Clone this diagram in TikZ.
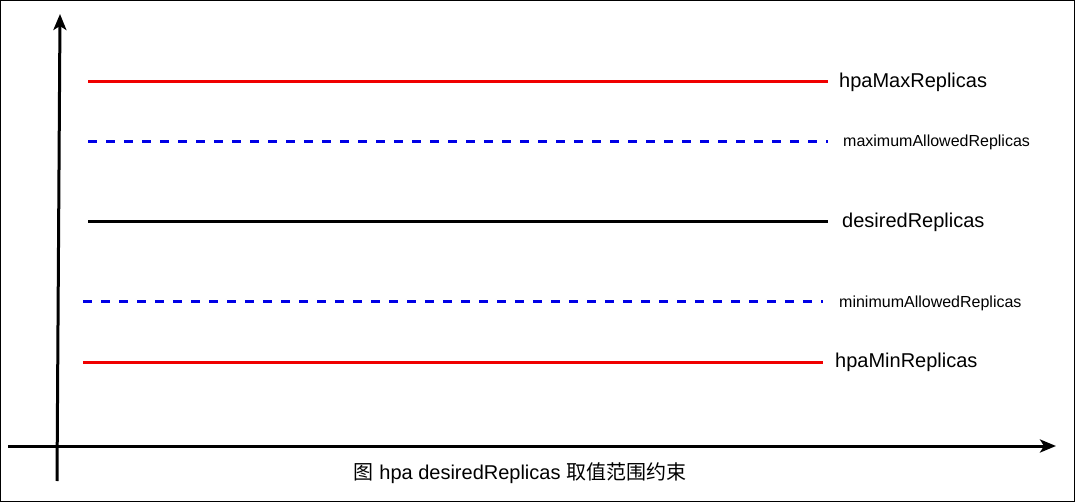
\documentclass[tikz,border=0pt]{standalone}
\usepackage{fontspec}
\setmainfont{Liberation Sans}
\newfontfamily\cjk{Noto Sans CJK SC}
\usetikzlibrary{arrows.meta}
\definecolor{lred}{RGB}{240,0,0}
\definecolor{lblue}{RGB}{0,0,230}
\tikzset{
  axis/.style={line width=3pt,-{Stealth[length=16pt,width=13pt,inset=4pt]}},
  solidline/.style={line width=3pt},
  dashline/.style={line width=3pt,dash pattern=on 9pt off 9pt,color=lblue},
  biglabel/.style={anchor=base west,inner sep=0pt,font=\fontsize{20pt}{24pt}\selectfont},
  smalllabel/.style={anchor=base west,inner sep=0pt,font=\fontsize{16pt}{19pt}\selectfont},
}
\begin{document}
\begin{tikzpicture}[x=1pt,y=-1pt]
\useasboundingbox (0,0) rectangle (1075,502);
\draw[line width=1pt] (0.5,0.5) rectangle (1074.5,501.5);
% axes
\coordinate (yb) at (57,481);
\coordinate (yt) at (60,14);
\coordinate (xl) at (8,446);
\coordinate (xr) at (1056,446);
\draw[axis] (yb) -- (yt);
\draw[axis] (xl) -- (xr);
% lines
\coordinate (a1) at (88,82);  \coordinate (a2) at (828,82);
\coordinate (b1) at (88,142); \coordinate (b2) at (828,142);
\coordinate (c1) at (88,222); \coordinate (c2) at (828,222);
\coordinate (d1) at (83,302); \coordinate (d2) at (823,302);
\coordinate (e1) at (83,362); \coordinate (e2) at (823,362);
\draw[solidline,lred] (a1) -- (a2);
\draw[dashline] (b1) -- (b2);
\draw[solidline,black] (c1) -- (c2);
\draw[dashline] (d1) -- (d2);
\draw[solidline,lred] (e1) -- (e2);
% labels
\node[biglabel] (la) at (839,88) {hpaMaxReplicas};
\node[smalllabel] (lb) at (843,147) {maximumAllowedReplicas};
\node[biglabel] (lc) at (842,228) {desiredReplicas};
\node[smalllabel] (ld) at (839,307) {minimumAllowedReplicas};
\node[biglabel] (le) at (835,367) {hpaMinReplicas};
\node[anchor=base,inner sep=0pt,font=\fontsize{20pt}{24pt}\selectfont] (cap) at (520,479) {{\cjk 图} hpa desiredReplicas {\cjk 取值范围约束}};
\end{tikzpicture}
\end{document}
